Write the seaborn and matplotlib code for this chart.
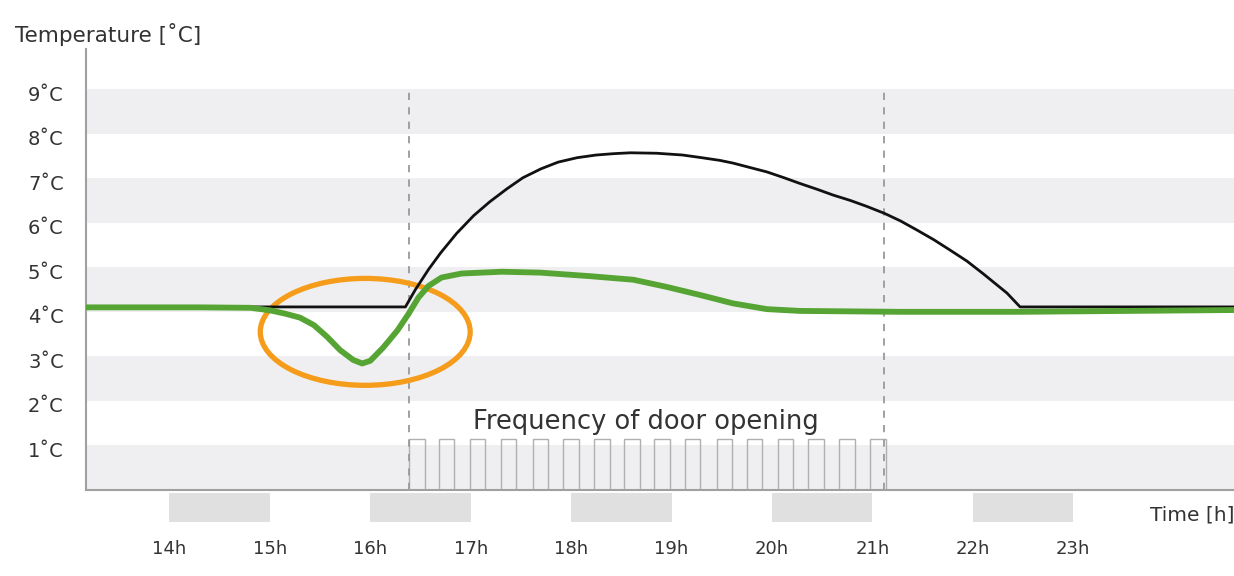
import matplotlib
matplotlib.use('Agg')
import pandas as pd
import seaborn as sns
from matplotlib import pyplot as plt
from matplotlib import transforms
from matplotlib.patches import Ellipse, Rectangle

# data (hours, degC)
BlackTime = [13.17, 16.35, 16.45, 16.58, 16.70, 16.86, 17.03, 17.19, 17.36, 17.52,
             17.70, 17.87, 18.06, 18.25, 18.42, 18.59, 18.85, 19.11, 19.30, 19.48,
             19.61, 19.78, 19.95, 20.12, 20.28, 20.45, 20.61, 20.78, 20.94, 21.12,
             21.28, 21.44, 21.61, 21.77, 21.94, 22.10, 22.22, 22.34, 22.47, 24.60]
BlackTemp = [4.11, 4.11, 4.50, 4.95, 5.32, 5.76, 6.16, 6.47, 6.76, 7.01,
             7.21, 7.36, 7.46, 7.52, 7.55, 7.57, 7.56, 7.52, 7.46, 7.40,
             7.34, 7.24, 7.14, 7.01, 6.88, 6.75, 6.62, 6.50, 6.37, 6.21,
             6.04, 5.84, 5.62, 5.39, 5.14, 4.86, 4.64, 4.42, 4.11, 4.11]

GreenTime = [13.17, 14.31, 14.81, 15.01, 15.15, 15.30, 15.44, 15.57, 15.70, 15.83,
             15.92, 16.00, 16.13, 16.27, 16.38, 16.48, 16.58, 16.71, 16.91, 17.31,
             17.69, 18.19, 18.62, 18.95, 19.28, 19.61, 19.95, 20.28, 21.27, 22.47,
             24.60]
GreenTemp = [4.10, 4.10, 4.09, 4.03, 3.96, 3.87, 3.70, 3.44, 3.14, 2.92,
             2.84, 2.90, 3.20, 3.58, 3.95, 4.32, 4.58, 4.77, 4.86, 4.90,
             4.88, 4.80, 4.72, 4.56, 4.38, 4.19, 4.06, 4.02, 4.00, 4.00,
             4.04]

DoorOpen = [16.39, 16.68, 16.99, 17.30, 17.62, 17.92, 18.23, 18.53,
            18.83, 19.13, 19.45, 19.75, 20.06, 20.36, 20.67, 20.98]
DoorWidth = 0.154
DoorLevel = 1.14

DashTimes = [16.39, 21.12]
HourTicks = [14, 15, 16, 17, 18, 19, 20, 21, 22, 23]
HourLabels = ['14h', '15h', '16h', '17h', '18h', '19h', '20h', '21h', '22h', '23h']
TempTicks = [1, 2, 3, 4, 5, 6, 7, 8, 9]
TempLabels = ['1˚C', '2˚C', '3˚C', '4˚C', '5˚C', '6˚C', '7˚C', '8˚C', '9˚C']
BoxHours = [14, 16, 18, 20, 22]

sns.set_style('white')
plt.rcParams['font.family'] = ['DejaVu Sans']
TextCol = '#333333'
AxCol = '#a0a0a0'

fig = plt.figure(figsize=(12.34, 5.76), dpi=100)
ax = fig.add_axes([86/1234, 1-490/576, (1234-86)/1234, (490-49)/576])
ax.set_xlim(13.17, 24.60)
ax.set_ylim(0, 9.9)

# background stripes
for k in range(0, 9, 2):
    ax.axhspan(k, k+1, color='#efeff1', lw=0, zorder=0)

# door openings
ax.bar(DoorOpen, DoorLevel, width=DoorWidth, align='edge', fill=False,
       edgecolor='#b0b0b0', lw=1.0, zorder=1)

for t in DashTimes:
    ax.plot([t, t], [0, 9.0], color='#999999', lw=1.3, ls=(0, (4, 4)), zorder=1)

ax.add_patch(Ellipse((15.95, 3.55), 2.09, 2.40, fill=False,
                     edgecolor='#f59c1a', lw=3.8, zorder=2))

dfBlack = pd.DataFrame({'Time': BlackTime, 'Temp': BlackTemp})
dfGreen = pd.DataFrame({'Time': GreenTime, 'Temp': GreenTemp})
sns.lineplot(data=dfBlack, x='Time', y='Temp', color='#111111', lw=2.0, ax=ax, zorder=3)
sns.lineplot(data=dfGreen, x='Time', y='Temp', color='#56a534', lw=4.2, ax=ax, zorder=4)

ax.text(18.74, 1.53, 'Frequency of door opening', ha='center', va='center',
        fontsize=18.5, color=TextCol)

# gray boxes under the time axis
for h in BoxHours:
    ax.add_patch(Rectangle((h, -0.072), 1, 0.066, color='#e0e0e0', lw=0,
                           transform=ax.get_xaxis_transform(), clip_on=False))

ax.set_xticks(HourTicks)
ax.set_xticklabels(HourLabels)
ax.set_yticks(TempTicks)
ax.set_yticklabels(TempLabels)
ax.tick_params(axis='x', length=0, pad=36, labelsize=13, labelcolor=TextCol)
ax.tick_params(axis='y', length=0, pad=16, labelsize=14, labelcolor=TextCol)
shift = transforms.ScaledTranslation(0, -4/100, fig.dpi_scale_trans)
for lab in ax.get_yticklabels():
    lab.set_transform(lab.get_transform() + shift)
ax.set_xlabel('')
ax.set_ylabel('')

for s in ['top', 'right']:
    ax.spines[s].set_visible(False)
for s in ['left', 'bottom']:
    ax.spines[s].set_color(AxCol)
    ax.spines[s].set_linewidth(1.5)

ax.text(1.0, -0.057, 'Time [h]', transform=ax.transAxes, ha='right', va='center',
        fontsize=14.5, color=TextCol)
fig.text(15/1234, 1-34/576, 'Temperature [˚C]', ha='left', va='center',
         fontsize=15.5, color=TextCol)

fig.savefig('out.png', dpi=100)
